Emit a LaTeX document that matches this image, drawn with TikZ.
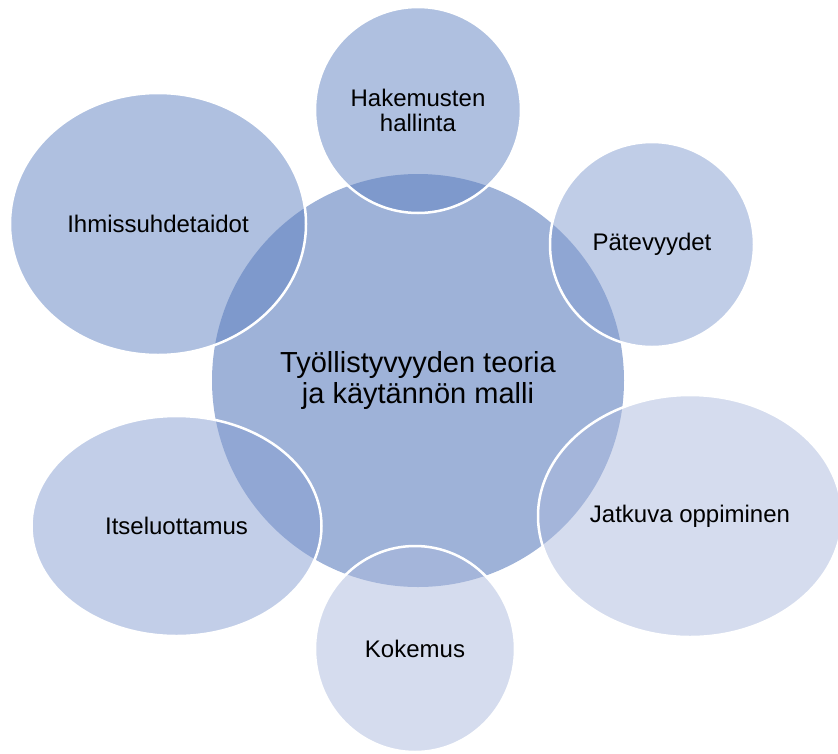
\documentclass[tikz,border=0pt]{standalone}
\usepackage{fontspec}
\setmainfont{Liberation Sans}
\usetikzlibrary{shapes.geometric}
\definecolor{ccenter}{HTML}{9EB2D8}
\definecolor{cone}{HTML}{5F81C1}
\definecolor{ctwo}{HTML}{819BCF}
\definecolor{cthree}{HTML}{859DD1}
\definecolor{cfour}{HTML}{ABB9DD}
\begin{document}
\begin{tikzpicture}[x=1pt,y=-1pt,
  bubble/.style={ellipse, draw=white, line width=2.5pt, fill opacity=0.5,
    text opacity=1, inner sep=0pt, outer sep=0pt, align=center,
    font=\fontsize{24}{25}\selectfont},
  hub/.style={ellipse, fill=ccenter, inner sep=0pt, outer sep=0pt,
    align=center, font=\fontsize{29}{31.5}\selectfont}]
\useasboundingbox (0,0) rectangle (838,753);
\node[hub, minimum width=412pt, minimum height=413pt] (center) at (418,380.5)
  {Työllistyvyyden teoria\\ja käytännön malli};
\node[bubble, fill=cone, minimum width=206pt, minimum height=206pt] (hak) at (418,110)
  {Hakemusten\\hallinta};
\node[bubble, fill=ctwo, minimum width=204pt, minimum height=205pt] (pat) at (652,244.5)
  {Pätevyydet};
\node[bubble, fill=cfour, minimum width=304pt, minimum height=242pt] (jat) at (690,516)
  {Jatkuva oppiminen};
\node[bubble, fill=cfour, minimum width=200pt, minimum height=206pt] (kok) at (415,649)
  {Kokemus};
\node[bubble, fill=cthree, minimum width=290pt, minimum height=220pt] (its) at (176.5,526)
  {Itseluottamus};
\node[bubble, fill=cone, minimum width=296pt, minimum height=262pt] (ihm) at (158,224)
  {Ihmissuhdetaidot};
\end{tikzpicture}
\end{document}
